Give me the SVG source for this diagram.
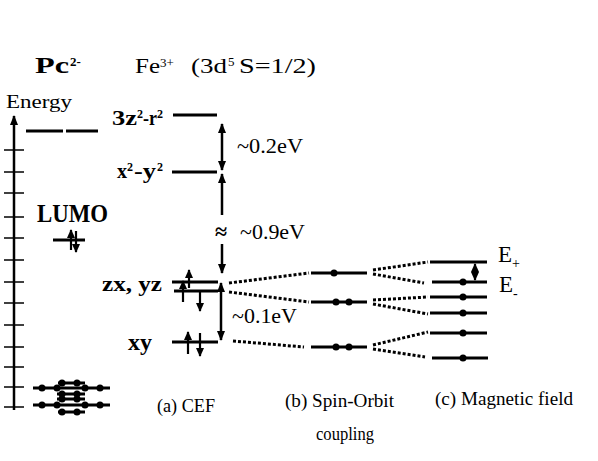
<svg xmlns="http://www.w3.org/2000/svg" width="598" height="461" viewBox="0 0 598 461">
<style>
.t{font-family:"Liberation Serif","Times New Roman",serif;fill:#000}
.b{font-weight:bold}
.lv{stroke:#000;stroke-width:3;fill:none}
.ar{stroke:#000;stroke-width:2.5;fill:none}
.el{stroke:#000;stroke-width:2.2;fill:none}
.dt{stroke:#000;stroke-width:3;stroke-dasharray:3 2;fill:none}
.tk{stroke:#000;stroke-width:1.5}
</style>
<defs>
<marker id="ah" viewBox="0 0 10 8" refX="9" refY="4" markerWidth="10" markerHeight="8" markerUnits="userSpaceOnUse" orient="auto-start-reverse"><path d="M0,0 L10,4 L0,8 z" fill="#000"/></marker>
<marker id="eh" viewBox="0 0 9 8" refX="8" refY="4" markerWidth="9" markerHeight="8" markerUnits="userSpaceOnUse" orient="auto-start-reverse"><path d="M0,0 L9,4 L0,8 z" fill="#000"/></marker>
</defs>

<g id="titles">
<text class="t b" x="35" y="73" font-size="23" textLength="34" lengthAdjust="spacingAndGlyphs">Pc</text>
<text class="t b" x="70" y="66" font-size="13">2-</text>
<text class="t" x="135" y="73" font-size="22" textLength="25" lengthAdjust="spacingAndGlyphs">Fe</text>
<text class="t" x="160" y="67" font-size="13">3+</text>
<text class="t" x="191" y="73" font-size="22" textLength="36" lengthAdjust="spacingAndGlyphs">(3d</text>
<text class="t" x="228" y="66" font-size="13">5</text>
<text class="t" x="239" y="73" font-size="22" textLength="77" lengthAdjust="spacingAndGlyphs">S=1/2)</text>
</g>

<g id="axis">
<text class="t" x="6" y="108" font-size="18" textLength="66" lengthAdjust="spacingAndGlyphs">Energy</text>
<line class="ar" x1="14" y1="410" x2="14" y2="116" stroke-width="3" marker-end="url(#ah)"/>
<g class="tk">
<line x1="4" y1="150" x2="24" y2="150"/><line x1="4" y1="172" x2="24" y2="172"/>
<line x1="4" y1="193" x2="24" y2="193"/><line x1="4" y1="217" x2="24" y2="217"/>
<line x1="4" y1="238" x2="24" y2="238"/><line x1="4" y1="260" x2="24" y2="260"/>
<line x1="4" y1="282" x2="24" y2="282"/><line x1="4" y1="303" x2="24" y2="303"/>
<line x1="4" y1="325" x2="24" y2="325"/><line x1="4" y1="347" x2="24" y2="347"/>
<line x1="4" y1="367" x2="24" y2="367"/><line x1="4" y1="387" x2="24" y2="387"/>
<line x1="4" y1="407" x2="24" y2="407"/>
</g>
</g>

<g id="pc-levels">
<line class="lv" x1="26" y1="131" x2="63" y2="131"/>
<line class="lv" x1="66" y1="131" x2="98" y2="131"/>
</g>

<g id="lumo">
<text class="t b" x="37" y="222" font-size="25" textLength="71" lengthAdjust="spacingAndGlyphs">LUMO</text>
<line class="lv" x1="53" y1="240" x2="85" y2="240"/>
<line class="el" x1="71" y1="250" x2="71" y2="230" marker-end="url(#eh)"/>
<line class="el" x1="76" y1="231" x2="76" y2="252" marker-end="url(#eh)"/>
</g>

<g id="homo">
<g class="lv">
<line x1="58" y1="383" x2="85" y2="383"/>
<line x1="33" y1="388" x2="110" y2="388"/>
<line x1="57" y1="394" x2="85" y2="394"/>
<line x1="57" y1="399" x2="85" y2="399"/>
<line x1="33" y1="405" x2="110" y2="405"/>
<line x1="58" y1="412" x2="85" y2="412"/>
</g>
<g fill="#000">
<circle cx="62" cy="383" r="3.5"/><circle cx="77" cy="383" r="3.5"/>
<circle cx="42" cy="388" r="3.5"/><circle cx="57" cy="388" r="3.5"/><circle cx="85" cy="388" r="3.5"/><circle cx="100" cy="388" r="3.5"/>
<circle cx="62" cy="394" r="3.5"/><circle cx="77" cy="394" r="3.5"/>
<circle cx="62" cy="399" r="3.5"/><circle cx="77" cy="399" r="3.5"/>
<circle cx="42" cy="405" r="3.5"/><circle cx="57" cy="405" r="3.5"/><circle cx="85" cy="405" r="3.5"/><circle cx="100" cy="405" r="3.5"/>
<circle cx="62" cy="412" r="3.5"/><circle cx="77" cy="412" r="3.5"/>
</g>
</g>

<g id="cef-3z2">
<text class="t b" x="112" y="125" font-size="20" textLength="25" lengthAdjust="spacingAndGlyphs">3z</text>
<text class="t b" x="137" y="118" font-size="12">2</text>
<text class="t b" x="143" y="125" font-size="20" textLength="14" lengthAdjust="spacingAndGlyphs">-r</text>
<text class="t b" x="157" y="118" font-size="12">2</text>
<line class="lv" x1="173" y1="115" x2="217" y2="115"/>
</g>

<g id="cef-x2y2">
<text class="t b" x="117" y="178" font-size="20" textLength="10" lengthAdjust="spacingAndGlyphs">x</text>
<text class="t b" x="127" y="171" font-size="12">2</text>
<text class="t b" x="134" y="178" font-size="20" textLength="22" lengthAdjust="spacingAndGlyphs">-y</text>
<text class="t b" x="157" y="171" font-size="12">2</text>
<line class="lv" x1="172" y1="172" x2="217" y2="172"/>
</g>

<g id="cef-zxyz">
<text class="t b" x="102" y="291" font-size="22" textLength="60" lengthAdjust="spacingAndGlyphs">zx, yz</text>
<line class="lv" x1="172" y1="282" x2="218" y2="282"/>
<line class="lv" x1="174" y1="291" x2="218" y2="291"/>
<line class="el" x1="189" y1="288" x2="189" y2="270" marker-end="url(#eh)"/>
<line class="el" x1="183" y1="302" x2="183" y2="281" marker-end="url(#eh)"/>
<line class="el" x1="200" y1="291" x2="200" y2="311" marker-end="url(#eh)"/>
</g>

<g id="cef-xy">
<text class="t b" x="128" y="350" font-size="23" textLength="24" lengthAdjust="spacingAndGlyphs">xy</text>
<line class="lv" x1="172" y1="342" x2="218" y2="342"/>
<line class="el" x1="188" y1="354" x2="188" y2="332" marker-end="url(#eh)"/>
<line class="el" x1="200" y1="333" x2="200" y2="356" marker-end="url(#eh)"/>
</g>

<g id="so-1">
<line class="lv" x1="311" y1="273" x2="367" y2="273"/>
<circle cx="334" cy="273" r="3.5"/>
</g>
<g id="so-2">
<line class="lv" x1="311" y1="302" x2="367" y2="302"/>
<circle cx="336" cy="302" r="3.5"/><circle cx="349" cy="302" r="3.5"/>
</g>
<g id="so-3">
<line class="lv" x1="311" y1="347" x2="367" y2="347"/>
<circle cx="336" cy="347" r="3.5"/><circle cx="349" cy="347" r="3.5"/>
</g>

<g id="mf-levels">
<line class="lv" x1="430" y1="262" x2="487" y2="262"/>
<line class="lv" x1="432" y1="282" x2="487" y2="282"/>
<line class="lv" x1="430" y1="297" x2="487" y2="297"/>
<line class="lv" x1="430" y1="313" x2="487" y2="313"/>
<line class="lv" x1="430" y1="333" x2="487" y2="333"/>
<line class="lv" x1="432" y1="358" x2="488" y2="358"/>
<g fill="#000">
<circle cx="463" cy="282" r="3.5"/><circle cx="463" cy="297" r="3.5"/>
<circle cx="463" cy="313" r="3.5"/><circle cx="463" cy="333" r="3.5"/>
<circle cx="463" cy="358" r="3.5"/>
</g>
<line class="el" x1="475" y1="264" x2="475" y2="280" marker-start="url(#eh)" marker-end="url(#eh)"/>
<text class="t" x="498" y="262" font-size="23">E</text>
<text class="t" x="512" y="268" font-size="14">+</text>
<text class="t" x="499" y="292" font-size="23">E</text>
<text class="t" x="513" y="298" font-size="14">-</text>
</g>

<g id="connectors">
<line class="ar" x1="222" y1="124" x2="222" y2="170" marker-start="url(#ah)" marker-end="url(#ah)"/>
<line class="ar" x1="222" y1="215" x2="222" y2="174" marker-end="url(#ah)"/>
<line class="ar" x1="222" y1="244" x2="222" y2="273" marker-end="url(#ah)"/>
<line class="ar" x1="221" y1="283" x2="221" y2="340" marker-start="url(#ah)" marker-end="url(#ah)"/>
<path class="dt" d="M229,283 L309,273 M229,292 L309,302 M233,341 L304,347"/>
<path class="dt" d="M373,270 L428,262 M373,274 L424,283 M373,300 L428,297 M373,304 L428,314 M373,345 L428,332 M373,349 L425,357"/>
</g>

<g id="labels">
<text class="t b" x="215" y="239" font-size="22">≈</text>
<text class="t" x="237" y="153" font-size="22" textLength="66" lengthAdjust="spacingAndGlyphs">~0.2eV</text>
<text class="t" x="240" y="239" font-size="22" textLength="65" lengthAdjust="spacingAndGlyphs">~0.9eV</text>
<text class="t" x="232" y="323" font-size="22" textLength="65" lengthAdjust="spacingAndGlyphs">~0.1eV</text>
<text class="t" x="157" y="412" font-size="18" textLength="58" lengthAdjust="spacingAndGlyphs">(a) CEF</text>
<text class="t" x="285" y="407" font-size="18" textLength="109" lengthAdjust="spacingAndGlyphs">(b) Spin-Orbit</text>
<text class="t" x="316" y="440" font-size="18" textLength="58" lengthAdjust="spacingAndGlyphs">coupling</text>
<text class="t" x="435" y="405" font-size="18" textLength="138" lengthAdjust="spacingAndGlyphs">(c) Magnetic field</text>
</g>
</svg>
